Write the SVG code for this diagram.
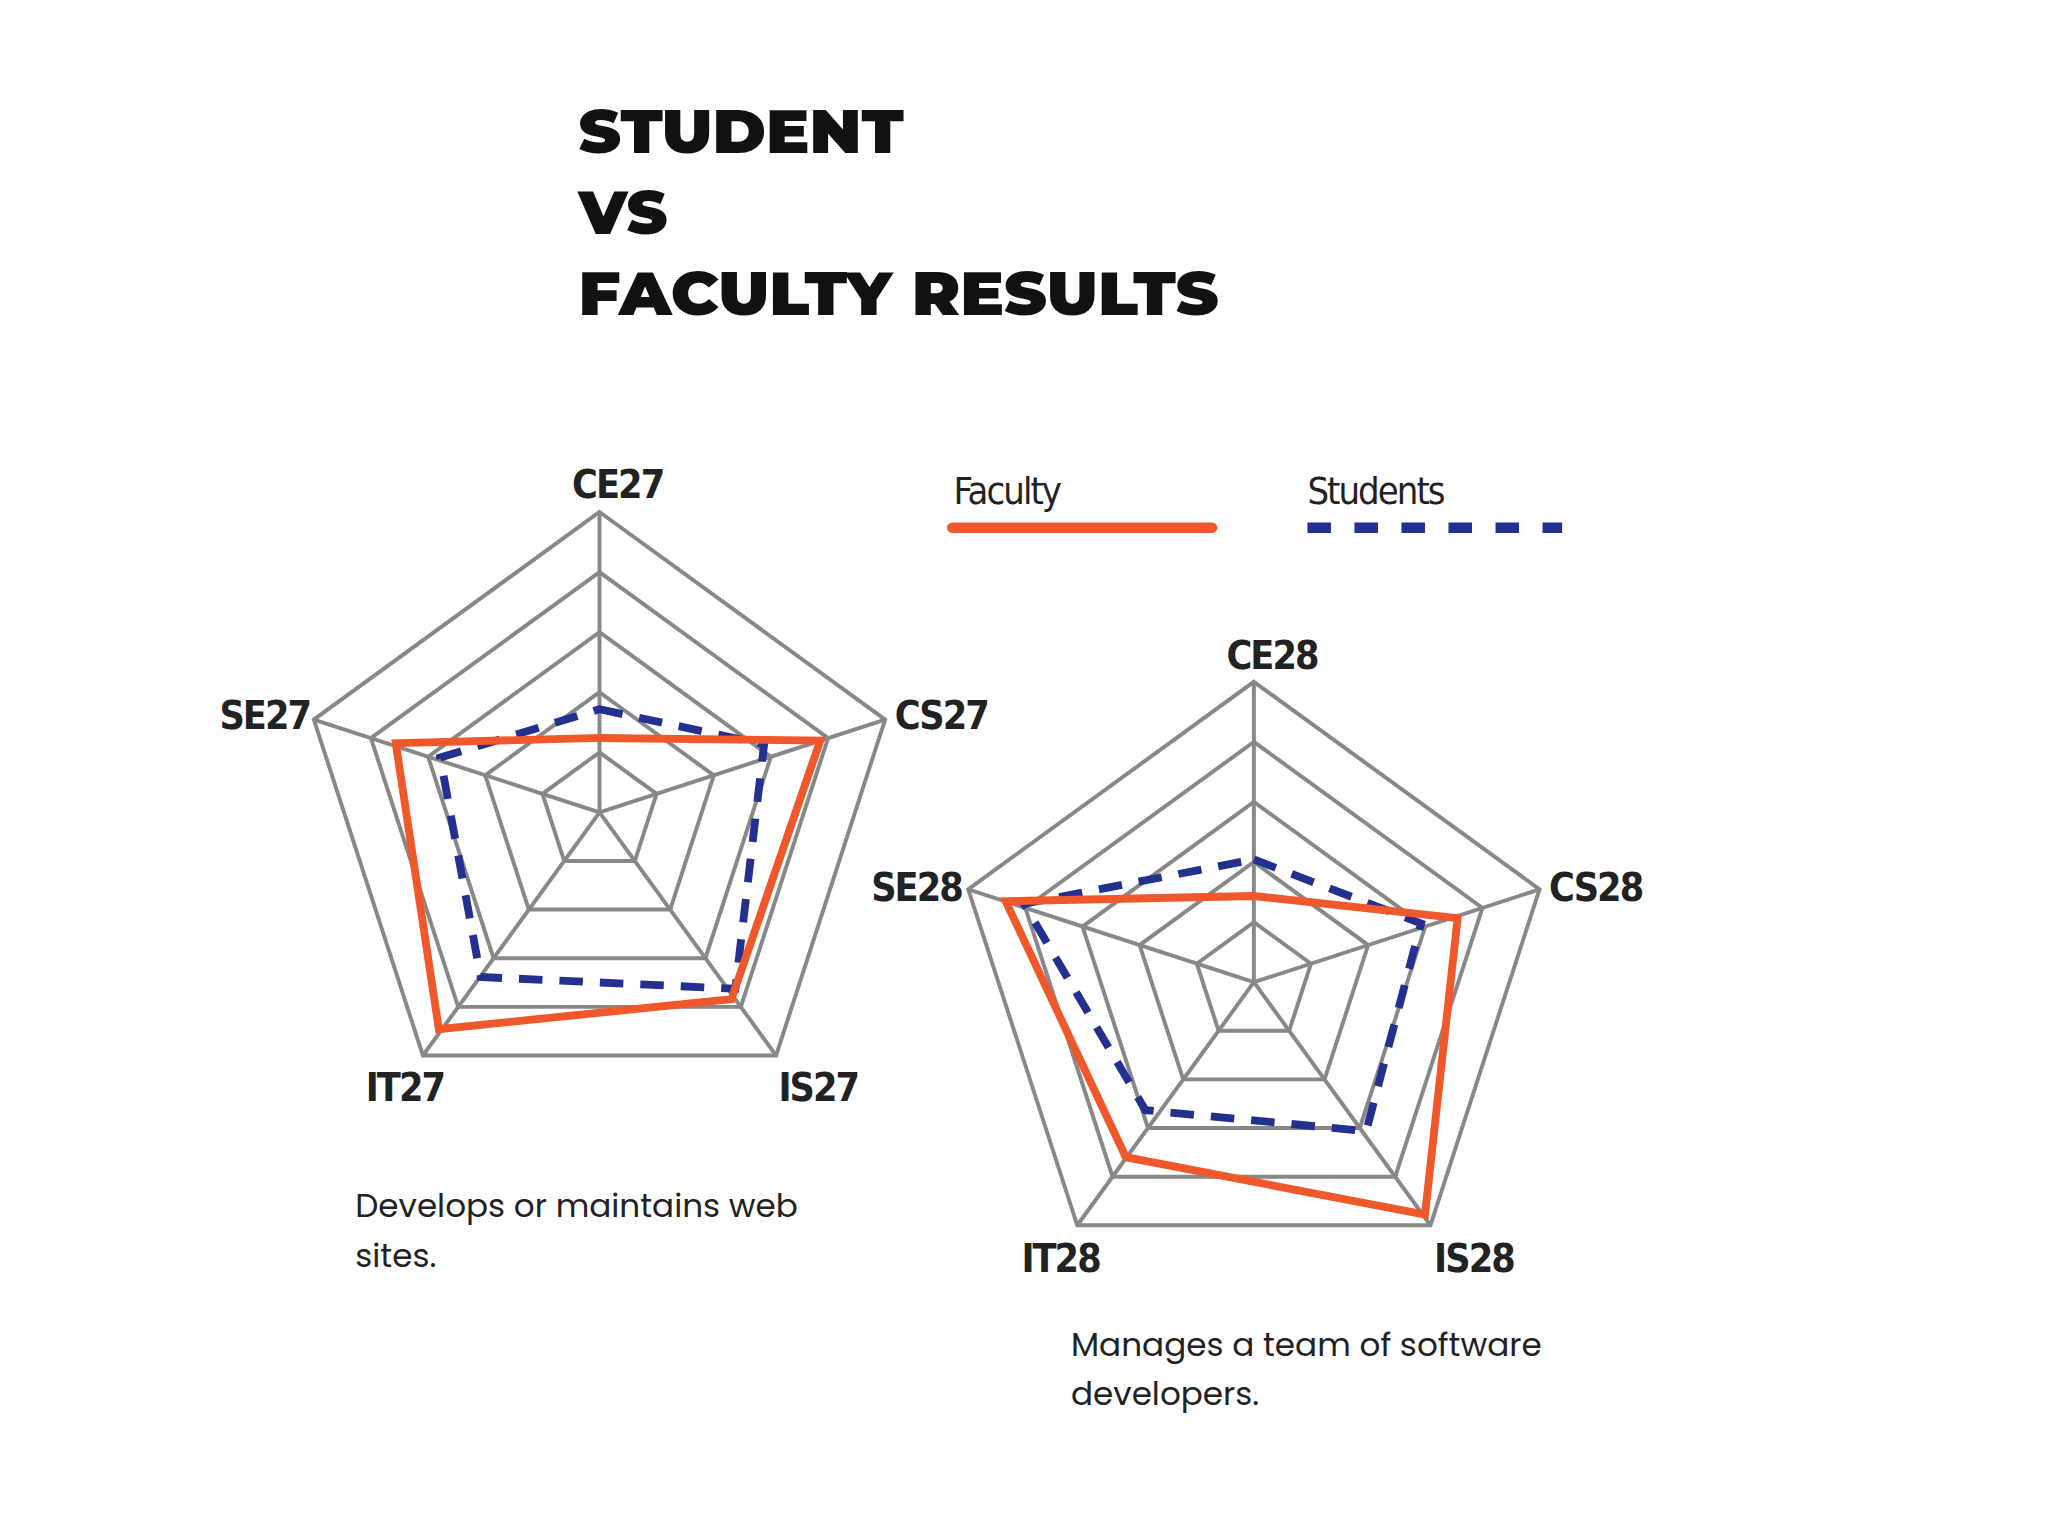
<svg xmlns="http://www.w3.org/2000/svg" width="2048" height="1536" viewBox="0 0 2048 1536">
<style>
.title{font-family:"Montserrat","Lato","Liberation Sans",sans-serif;font-weight:900;font-size:47px;fill:#111}
.lbl{font-family:"DejaVu Sans Condensed","DejaVu Sans",sans-serif;font-stretch:condensed;font-weight:bold;font-size:30px;fill:#222;letter-spacing:-1.5px}
.leg{font-family:"DejaVu Sans Condensed","DejaVu Sans",sans-serif;font-stretch:condensed;font-size:29px;fill:#222;letter-spacing:-1.5px}
.body{font-family:"Poppins","Lato","Liberation Sans",sans-serif;font-size:25px;fill:#222}
.grid{fill:none;stroke:#888;stroke-width:3}
.fac{fill:none;stroke:#f0572a;stroke-width:6;stroke-linejoin:miter}
.stu{fill:none;stroke:#23308f;stroke-width:6;stroke-dasharray:18 13}
</style>
<defs>
<g id="grid" class="grid">
<polygon points="0,-46 43.7,-14.2 27,37.2 -27,37.2 -43.7,-14.2"/>
<polygon points="0,-92 87.5,-28.4 54.1,74.4 -54.1,74.4 -87.5,-28.4"/>
<polygon points="0,-138 131.2,-42.6 81.1,111.6 -81.1,111.6 -131.2,-42.6"/>
<polygon points="0,-184 175,-56.9 108.2,148.9 -108.2,148.9 -175,-56.9"/>
<polygon points="0,-230 218.7,-71.1 135.2,186.1 -135.2,186.1 -218.7,-71.1"/>
<path d="M0,0V-230M0,0L218.7,-71.1M0,0L135.2,186.1M0,0L-135.2,186.1M0,0L-218.7,-71.1"/>
</g>
</defs>
<rect width="2048" height="1536" fill="#fff"/>
<g transform="scale(1.30612)">
<g id="title" class="title">
<text x="443" y="117" textLength="249" lengthAdjust="spacingAndGlyphs">STUDENT</text>
<text x="443" y="179" textLength="68" lengthAdjust="spacingAndGlyphs">VS</text>
<text x="443" y="241" textLength="490" lengthAdjust="spacingAndGlyphs">FACULTY RESULTS</text>
</g>
<g id="legend">
<text class="leg" x="730" y="386">Faculty</text>
<line x1="729" y1="404" x2="928" y2="404" stroke="#f0572a" stroke-width="8" stroke-linecap="round"/>
<text class="leg" x="1001" y="386">Students</text>
<line x1="1001" y1="404" x2="1196" y2="404" stroke="#23308f" stroke-width="8" stroke-dasharray="18 18"/>
</g>
<g id="chart27">
<use href="#grid" transform="translate(459,622)"/>
<polygon class="stu" points="459,543 585,570 563,757 368,748 337,580"/>
<polygon class="fac" points="459,565 628,567 560,765 336,788 303,569"/>
<text class="lbl" x="438" y="381">CE27</text>
<text class="lbl" x="685" y="558">CS27</text>
<text class="lbl" x="168" y="558">SE27</text>
<text class="lbl" x="280" y="843">IT27</text>
<text class="lbl" x="596" y="843">IS27</text>
<text class="body" x="272" y="932">Develops or maintains web</text>
<text class="body" x="272" y="970">sites.</text>
</g>
<g id="chart28">
<use href="#grid" transform="translate(960,752)"/>
<polygon class="stu" points="960,658 1088,707 1046,866 877,850 784,692"/>
<polygon class="fac" points="960,686 1116,703 1091,930 862,886 770,690"/>
<text class="lbl" x="939" y="512">CE28</text>
<text class="lbl" x="1186" y="690">CS28</text>
<text class="lbl" x="667" y="690">SE28</text>
<text class="lbl" x="782" y="974">IT28</text>
<text class="lbl" x="1098" y="974">IS28</text>
<text class="body" x="820" y="1038">Manages a team of software</text>
<text class="body" x="820" y="1076">developers.</text>
</g>
</g>
</svg>
